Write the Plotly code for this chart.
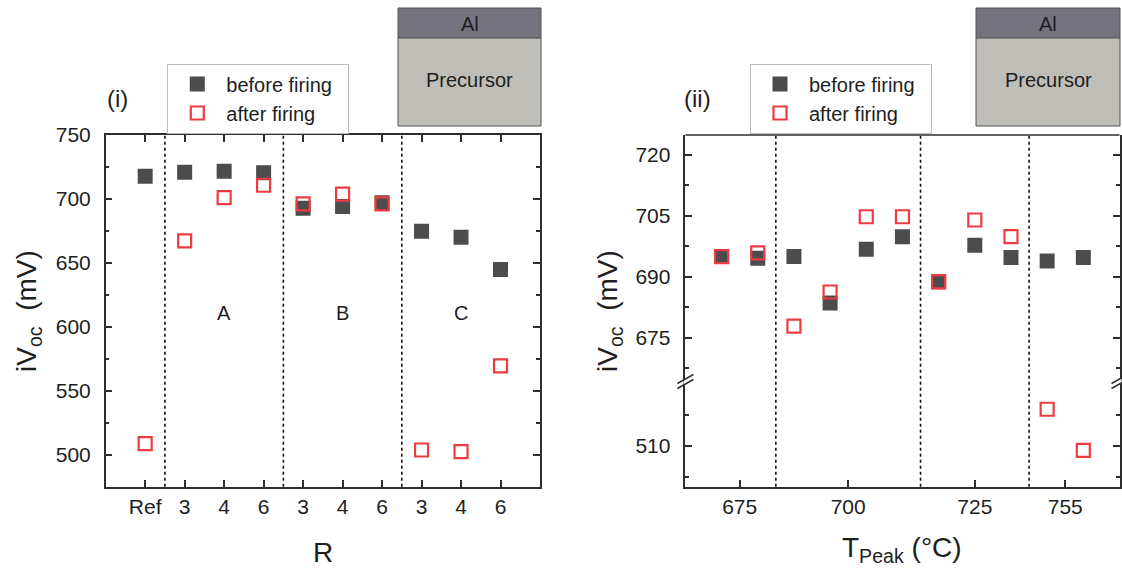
import plotly.graph_objects as go

W, H = 1122, 568

# ---------------- data: panel (i) ----------------
r_labels = ["Ref", "3", "4", "6", "3", "4", "6", "3", "4", "6"]
r_groups = ["Ref", "A", "A", "A", "B", "B", "B", "C", "C", "C"]
r_before = [717.7, 720.9, 721.6, 720.5, 692.7, 694.0, 697.1, 674.8, 670.1, 644.8]
r_after = [508.7, 667.2, 701.0, 710.7, 696.1, 703.7, 696.1, 503.7, 502.4, 569.5]
r_group_labels = ["A", "B", "C"]

# ---------------- data: panel (ii) ----------------
t_groups = [0, 0, 1, 1, 1, 1, 2, 2, 2, 3, 3]
t_tick_labels = ["675", "700", "725", "755"]
t_before = [695.0, 694.6, 695.0, 683.6, 696.8, 699.9, 688.8, 697.8, 694.8, 693.9, 694.8]
t_after = [695.0, 695.9, 677.9, 686.3, 704.8, 704.8, 688.8, 704.0, 699.9, 519.0, 508.9]

legend_names = ["before firing", "after firing"]

# ---------------- styling ----------------
FONT = "Liberation Sans, Arial, Helvetica, sans-serif"
TXT = "#1e1e1e"
AX = "#2e2e2e"
C_BEFORE = "#4c4c4c"
C_AFTER = "#ee3b41"
AL_FILL = "#75747e"
PRE_FILL = "#bebdb8"

def px(x):
    return x / W

def py(y):
    return 1 - y / H

Y_TOP, Y_BOT, Y_BRK = 135, 486.7, 381.5
L_X0, L_X1 = 105.7, 540.0
R_X0, R_X1 = 685.4, 1119.5

fig = go.Figure()

# panel (i) traces
r_x = list(range(len(r_labels)))
pad = "\u00a0\u00a0"
fig.add_trace(go.Scatter(x=r_x, y=r_before, mode="markers", name=legend_names[0] + pad,
                         marker=dict(symbol="square", size=15, color=C_BEFORE, line=dict(width=0)),
                         xaxis="x", yaxis="y", legend="legend"))
fig.add_trace(go.Scatter(x=r_x, y=r_after, mode="markers", name=legend_names[1],
                         marker=dict(symbol="square-open", size=13, color=C_AFTER, line=dict(width=2.2)),
                         xaxis="x", yaxis="y", legend="legend"))

# panel (ii) traces (broken y axis: upper and lower segment)
t_x = list(range(1, len(t_before) + 1))
brk = 600
up_b = [(x, v) for x, v in zip(t_x, t_before) if v > brk]
lo_b = [(x, v) for x, v in zip(t_x, t_before) if v <= brk]
up_a = [(x, v) for x, v in zip(t_x, t_after) if v > brk]
lo_a = [(x, v) for x, v in zip(t_x, t_after) if v <= brk]

mk_b = dict(symbol="square", size=15, color=C_BEFORE, line=dict(width=0))
mk_a = dict(symbol="square-open", size=13, color=C_AFTER, line=dict(width=2.2))

fig.add_trace(go.Scatter(x=[p[0] for p in up_b], y=[p[1] for p in up_b], mode="markers",
                         name=legend_names[0] + pad, marker=mk_b, xaxis="x2", yaxis="y2",
                         legend="legend2", legendgroup="b2"))
fig.add_trace(go.Scatter(x=[p[0] for p in lo_b], y=[p[1] for p in lo_b], mode="markers",
                         name=legend_names[0], marker=mk_b, xaxis="x2", yaxis="y3",
                         legend="legend2", legendgroup="b2", showlegend=False))
fig.add_trace(go.Scatter(x=[p[0] for p in up_a], y=[p[1] for p in up_a], mode="markers",
                         name=legend_names[1], marker=mk_a, xaxis="x2", yaxis="y2",
                         legend="legend2", legendgroup="a2"))
fig.add_trace(go.Scatter(x=[p[0] for p in lo_a], y=[p[1] for p in lo_a], mode="markers",
                         name=legend_names[1], marker=mk_a, xaxis="x2", yaxis="y3",
                         legend="legend2", legendgroup="a2", showlegend=False))

# ---------------- axes ----------------
common = dict(showline=True, linecolor=AX, linewidth=1.5, ticks="inside", ticklen=7,
              tickwidth=1.5, tickcolor=AX, showgrid=False, zeroline=False,
              tickfont=dict(family=FONT, size=21, color=TXT))

# group centres for panel (ii) tick labels
t_centers = []
for g in sorted(set(t_groups)):
    xs = [x for x, gg in zip(t_x, t_groups) if gg == g]
    t_centers.append(sum(xs) / len(xs))

fig.update_layout(
    xaxis=dict(domain=[px(L_X0), px(L_X1)], range=[-1, 10], anchor="y",
               tickmode="array", tickvals=r_x, ticktext=r_labels, mirror="ticks",
               ticklabelstandoff=0, **common),
    yaxis=dict(domain=[py(Y_BOT), py(Y_TOP)], range=[475, 750], anchor="x",
               tick0=500, dtick=50, mirror="ticks", ticklabelstandoff=9,
               minor=dict(dtick=25, tick0=500, ticks="inside", ticklen=4, tickcolor=AX, tickwidth=1.5),
               **common),
    xaxis2=dict(domain=[px(R_X0), px(R_X1)], range=[0, 12], anchor="y3",
                tickmode="array", tickvals=t_centers, ticktext=t_tick_labels, mirror=False,
                ticklabelstandoff=0, **common),
    yaxis2=dict(domain=[py(Y_BRK), py(Y_TOP)], range=[664.3, 724.9], anchor="x2",
                tickmode="array", tickvals=[675, 690, 705, 720], mirror="ticks",
                ticklabelstandoff=9,
                minor=dict(tickmode="array", tickvals=[667.5, 682.5, 697.5, 712.5], ticks="inside",
                           ticklen=4, tickcolor=AX, tickwidth=1.5),
                **common),
    yaxis3=dict(domain=[py(Y_BOT), py(Y_BRK)], range=[500, 525.8], anchor="x2",
                tickmode="array", tickvals=[510], mirror="ticks", ticklabelstandoff=9,
                minor=dict(tickmode="array", tickvals=[502.5, 517.5], ticks="inside",
                           ticklen=4, tickcolor=AX, tickwidth=1.5),
                **common),
)

# ---------------- shapes ----------------
shapes = []
# dividers panel (i)
for i in range(1, len(r_groups)):
    if r_groups[i] != r_groups[i - 1]:
        shapes.append(dict(type="line", xref="x", yref="paper", x0=i - 0.5, x1=i - 0.5,
                           y0=py(Y_BOT), y1=py(Y_TOP), line=dict(color="#111", width=1.6, dash="dot")))
# dividers panel (ii)
for i in range(1, len(t_groups)):
    if t_groups[i] != t_groups[i - 1]:
        xv = (t_x[i] + t_x[i - 1]) / 2
        shapes.append(dict(type="line", xref="x2", yref="paper", x0=xv, x1=xv,
                           y0=py(Y_BOT), y1=py(Y_TOP), line=dict(color="#111", width=1.6, dash="dot")))
# top frame line of panel (ii)
shapes.append(dict(type="line", xref="paper", yref="paper", x0=px(R_X0), x1=px(R_X1),
                   y0=py(Y_TOP), y1=py(Y_TOP), line=dict(color=AX, width=1.5)))
# axis-break marks
for sx in (R_X0, R_X1):
    shapes.append(dict(type="rect", xref="paper", yref="paper", x0=px(sx - 2), x1=px(sx + 2),
                       y0=py(Y_BRK + 2.5), y1=py(Y_BRK - 2.5), fillcolor="white",
                       line=dict(width=0), layer="above"))
    for dy in (-2.5, 2.5):
        shapes.append(dict(type="line", xref="paper", yref="paper",
                           x0=px(sx - 8), y0=py(Y_BRK + dy + 4.5),
                           x1=px(sx + 8), y1=py(Y_BRK + dy - 4.5),
                           line=dict(color=AX, width=1.5), layer="above"))
# layer-stack insets
for x0, x1 in ((398, 541), (976, 1120)):
    shapes.append(dict(type="rect", xref="paper", yref="paper", x0=px(x0), x1=px(x1),
                       y0=py(38), y1=py(8), fillcolor=AL_FILL, line=dict(color="#555", width=1)))
    shapes.append(dict(type="rect", xref="paper", yref="paper", x0=px(x0), x1=px(x1),
                       y0=py(126), y1=py(38), fillcolor=PRE_FILL, line=dict(color="#555", width=1)))

# ---------------- annotations ----------------
ann = []
def text(x, y, s, size, **kw):
    d = dict(x=x, y=y, xref="paper", yref="paper", text=s, showarrow=False,
             font=dict(family=FONT, size=size, color=TXT), xanchor="center", yanchor="middle")
    d.update(kw)
    ann.append(d)

for x0, x1 in ((398, 541), (976, 1120)):
    text(px((x0 + x1) / 2), py(24), "Al", 20)
    text(px((x0 + x1) / 2), py(80), "Precursor", 20)

text(px(117), py(98), "(i)", 24)
text(px(697), py(98), "(ii)", 24)

text(px((L_X0 + L_X1) / 2), py(552), "R", 28)
text(px((R_X0 + R_X1) / 2), py(549), "T<sub>Peak</sub> (°C)", 28)
text(px(28), py(311), "iV<sub>oc</sub>\u00a0 (mV)", 28, textangle=-90)
text(px(609), py(311), "iV<sub>oc</sub>\u00a0 (mV)", 28, textangle=-90)

# group labels A, B, C at group centres in data coordinates
for g in r_group_labels:
    xs = [x for x, gg in zip(r_x, r_groups) if gg == g]
    ann.append(dict(x=sum(xs) / len(xs), y=611, xref="x", yref="y", text=g, showarrow=False,
                    font=dict(family=FONT, size=20, color=TXT)))

leg = dict(xanchor="left", yanchor="top", bgcolor="white", bordercolor="#bdbdbd", borderwidth=1,
           font=dict(family=FONT, size=20, color=TXT), itemwidth=48, tracegroupgap=0)

fig.update_layout(
    width=W, height=H, autosize=False,
    margin=dict(l=0, r=0, t=0, b=0, autoexpand=False),
    paper_bgcolor="white", plot_bgcolor="white",
    shapes=shapes, annotations=ann,
    showlegend=True,
    legend=dict(x=px(167.3), y=py(63.5), **leg),
    legend2=dict(x=px(750), y=py(63.5), **leg),
    font=dict(family=FONT, color=TXT),
)

fig.write_html("out.html", config={"displayModeBar": False})

# remove the browser's default page margin so the figure sits at the window origin
with open("out.html", "r", encoding="utf-8") as f:
    html = f.read()
html = html.replace("<head>", "<head><style>html,body{margin:0;padding:0;overflow:hidden;}</style>", 1)
with open("out.html", "w", encoding="utf-8") as f:
    f.write(html)
